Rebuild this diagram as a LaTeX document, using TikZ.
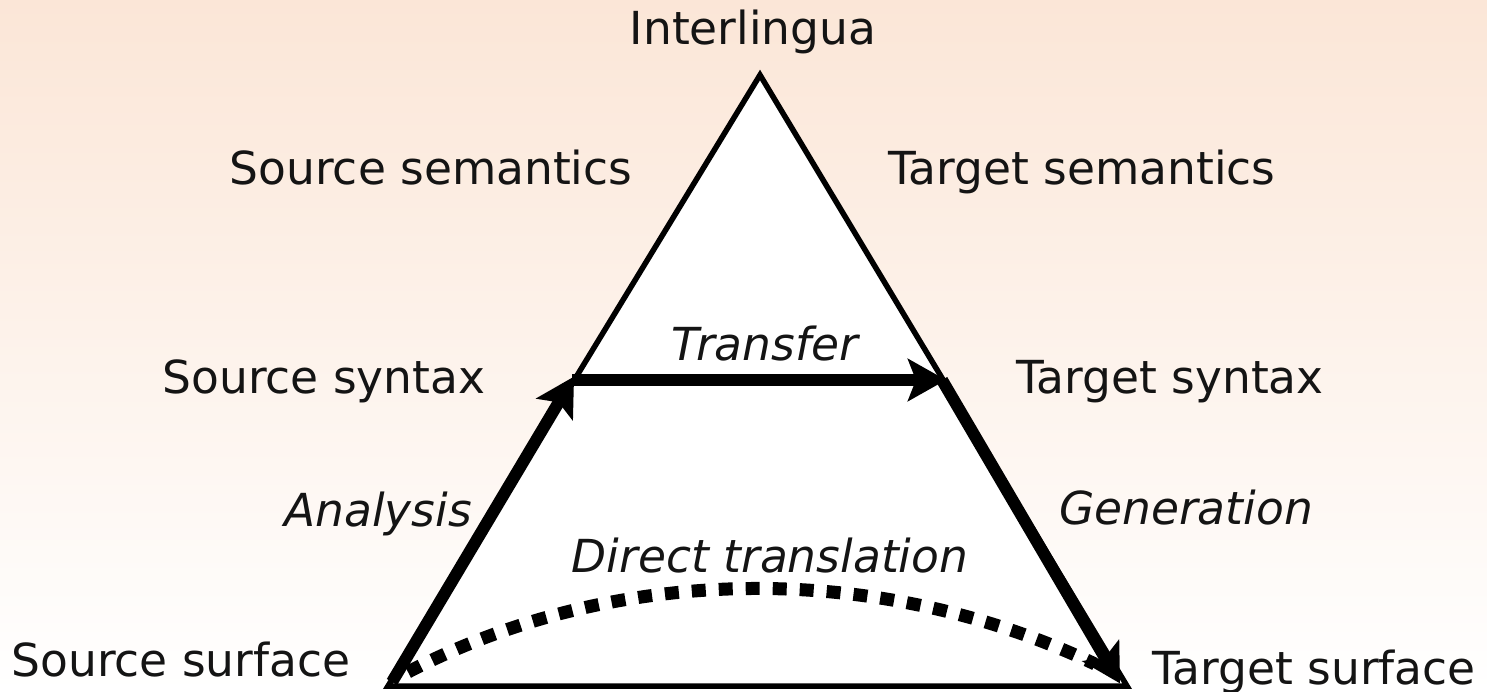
\documentclass[tikz,border=0pt]{standalone}
\usepackage{fontspec}
\setmainfont{DejaVu Sans}
\usetikzlibrary{arrows.meta}
\definecolor{peach}{RGB}{251,230,215}
\definecolor{txt}{RGB}{20,20,20}
\begin{document}
\begin{tikzpicture}[x=1pt,y=-1pt,
  lbl/.style={font=\fontsize{45.5}{54}\selectfont, text=txt, inner sep=0pt, anchor=base},
  ilbl/.style={lbl, font=\fontsize{45.5}{54}\selectfont\itshape},
  thickarrow/.style={line width=12pt, -{Stealth[length=38pt,width=42pt,inset=8pt]}, shorten >=-4pt},
  dotline/.style={line width=13pt, dash pattern=on 14pt off 13pt}]
\shade[top color=peach, bottom color=white] (0,0) rectangle (1487,692);
\useasboundingbox (0,0) rectangle (1487,692);
\coordinate (apex) at (760,75);
\coordinate (bl) at (388,686);
\coordinate (br) at (1127,686);
\coordinate (sl) at (572,380);
\coordinate (sr) at (942,380);
\coordinate (dl) at (408,672);
\coordinate (dr) at (1095,664);
\filldraw[fill=white, draw=black, line width=5.5pt, line join=miter] (apex) -- (bl) -- (br) -- cycle;
\draw[thickarrow] (392,682) -- (sl);
\draw[thickarrow] (sl) -- (sr);
\draw[thickarrow] (sr) -- (1118,680);
\draw[dotline] (dl) .. controls (620,562) and (880,562) .. (dr);
\node[lbl] (inter) at (753,45) {Interlingua};
\node[lbl] (ssem) at (431,185) {Source semantics};
\node[lbl] (tsem) at (1082,185) {Target semantics};
\node[lbl] (ssyn) at (324,393) {Source syntax};
\node[lbl] (tsyn) at (1170,393) {Target syntax};
\node[ilbl] (trans) at (765,360) {Transfer};
\node[ilbl] (anal) at (378,526) {Analysis};
\node[ilbl] (gen) at (1186,524) {Generation};
\node[ilbl] (direct) at (770,572) {Direct translation};
\node[lbl] (ssurf) at (181,676) {Source surface};
\node[lbl] (tsurf) at (1314,684) {Target surface};
\end{tikzpicture}
\end{document}
